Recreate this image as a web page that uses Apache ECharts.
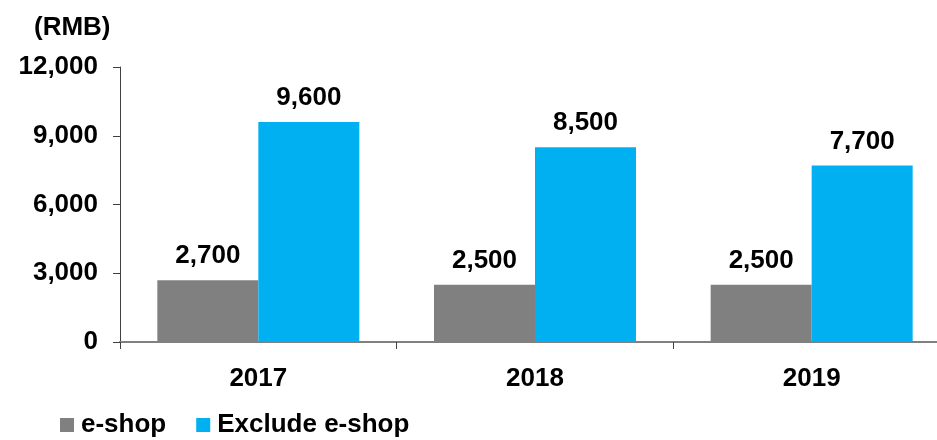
<!DOCTYPE html>
<html>
<head>
<meta charset="utf-8">
<script src="https://cdn.jsdelivr.net/npm/echarts@6/dist/echarts.min.js"></script>
<style>
  html, body { margin: 0; padding: 0; background: #fff; }
  #chart { width: 937px; height: 440px; }
</style>
</head>
<body>
<div id="chart"></div>
<script>
// Average spending per year, split by sales channel
const years = ['2017', '2018', '2019'];
const eshop = [2700, 2500, 2500];
const excludeEshop = [9600, 8500, 7700];
const yTicks = [0, 3000, 6000, 9000, 12000];

const FONT = '"Liberation Sans", Arial, sans-serif';
const fmt = v => v.toLocaleString('en-US');

const chart = echarts.init(document.getElementById('chart'), null, { renderer: 'canvas' });

const valueLabel = {
  show: true, position: 'top', distance: 11,
  fontFamily: FONT, fontSize: 26, fontWeight: 'bold', color: '#000',
  formatter: p => fmt(p.value)
};

chart.setOption({
  animation: false,
  textStyle: { fontFamily: FONT },
  // the plot runs past the right edge, so the last category is cut off
  grid: { left: 120, width: 830, top: 67, bottom: 98, containLabel: false, outerBoundsMode: 'none' },
  title: {
    text: '(RMB)',
    left: 29, top: 10,
    textStyle: { fontFamily: FONT, fontSize: 26, fontWeight: 'bold', color: '#000' }
  },
  legend: {
    left: 60, top: 412,
    padding: 0,
    itemWidth: 14, itemHeight: 14, itemGap: 30,
    icon: 'rect',
    textStyle: { fontFamily: FONT, fontSize: 26, fontWeight: 'bold', color: '#000', padding: [0, 0, 0, 2] },
    data: ['e-shop', 'Exclude e-shop']
  },
  xAxis: {
    type: 'category',
    data: years,
    axisLine: { show: true, lineStyle: { color: '#808080', width: 2 } },
    axisTick: { show: true, length: 7, lineStyle: { color: '#404040', width: 1 } },
    axisLabel: { fontFamily: FONT, fontSize: 26, fontWeight: 'bold', color: '#000', margin: 24 }
  },
  yAxis: {
    type: 'value',
    min: yTicks[0],
    max: yTicks[yTicks.length - 1],
    interval: yTicks[1] - yTicks[0],
    axisLine: { show: true, lineStyle: { color: '#404040', width: 1 } },
    axisTick: { show: true, inside: false, length: 7, lineStyle: { color: '#404040' } },
    splitLine: { show: false },
    axisLabel: {
      fontFamily: FONT, fontSize: 26, fontWeight: 'bold', color: '#000', margin: 22,
      formatter: v => fmt(v)
    }
  },
  series: [
    {
      name: 'e-shop',
      type: 'bar',
      data: eshop,
      barWidth: 101,
      barGap: '0%',
      itemStyle: { color: '#808080' },
      label: valueLabel
    },
    {
      name: 'Exclude e-shop',
      type: 'bar',
      data: excludeEshop,
      barWidth: 101,
      barGap: '0%',
      itemStyle: { color: '#00B0F0' },
      label: valueLabel
    }
  ]
});
</script>
</body>
</html>
